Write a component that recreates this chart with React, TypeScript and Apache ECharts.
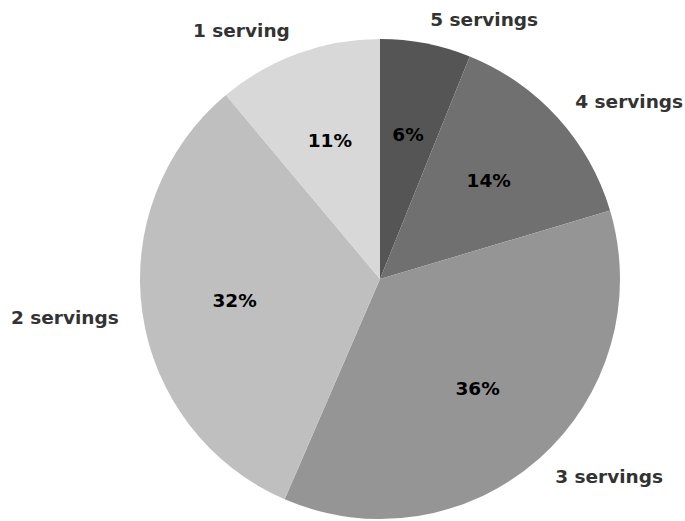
import React, { useEffect, useRef } from "react";
import * as echarts from "echarts";

const categories = ["5 servings", "4 servings", "3 servings", "2 servings", "1 serving"];
const values = [6.1, 14.3, 36.1, 32.4, 11.1];
const colors = ["#555555", "#707070", "#959595", "#bfbfbf", "#d8d8d8"];

export default function App() {
  const ref = useRef<HTMLDivElement>(null);
  useEffect(() => {
    document.body.style.margin = "0";
    const chart = echarts.init(ref.current!, undefined, { renderer: "svg" });
    const data = categories.map((name, i) => ({ name, value: values[i], itemStyle: { color: colors[i] } }));
    const font = "'DejaVu Sans', sans-serif";
    chart.setOption({
      animation: false,
      backgroundColor: "#ffffff",
      series: [
        {
          type: "pie",
          center: [380, 279],
          radius: [0, 240],
          startAngle: 90,
          clockwise: true,
          avoidLabelOverlap: false,
          silent: true,
          data,
          label: {
            show: true,
            position: "outside",
            formatter: "{b}",
            color: "#333333",
            fontFamily: font,
            fontWeight: "bold",
            fontSize: 18.5,
            distanceToLabelLine: 0,
          },
          labelLine: { show: false, length: 24, length2: 0 },
        },
        {
          type: "pie",
          center: [380, 279],
          radius: [48, 240],
          startAngle: 90,
          clockwise: true,
          avoidLabelOverlap: false,
          silent: true,
          data: categories.map((name, i) => ({ name, value: values[i] })),
          itemStyle: { color: "rgba(0,0,0,0)" },
          label: {
            show: true,
            position: "inside",
            formatter: (p: any) => Math.round(p.value) + "%",
            color: "#000000",
            fontFamily: font,
            fontWeight: "bold",
            fontSize: 18.5,
          },
          labelLine: { show: false },
        },
      ],
    });
    return () => chart.dispose();
  }, []);
  return <div ref={ref} style={{ width: 685, height: 521 }} />;
}
